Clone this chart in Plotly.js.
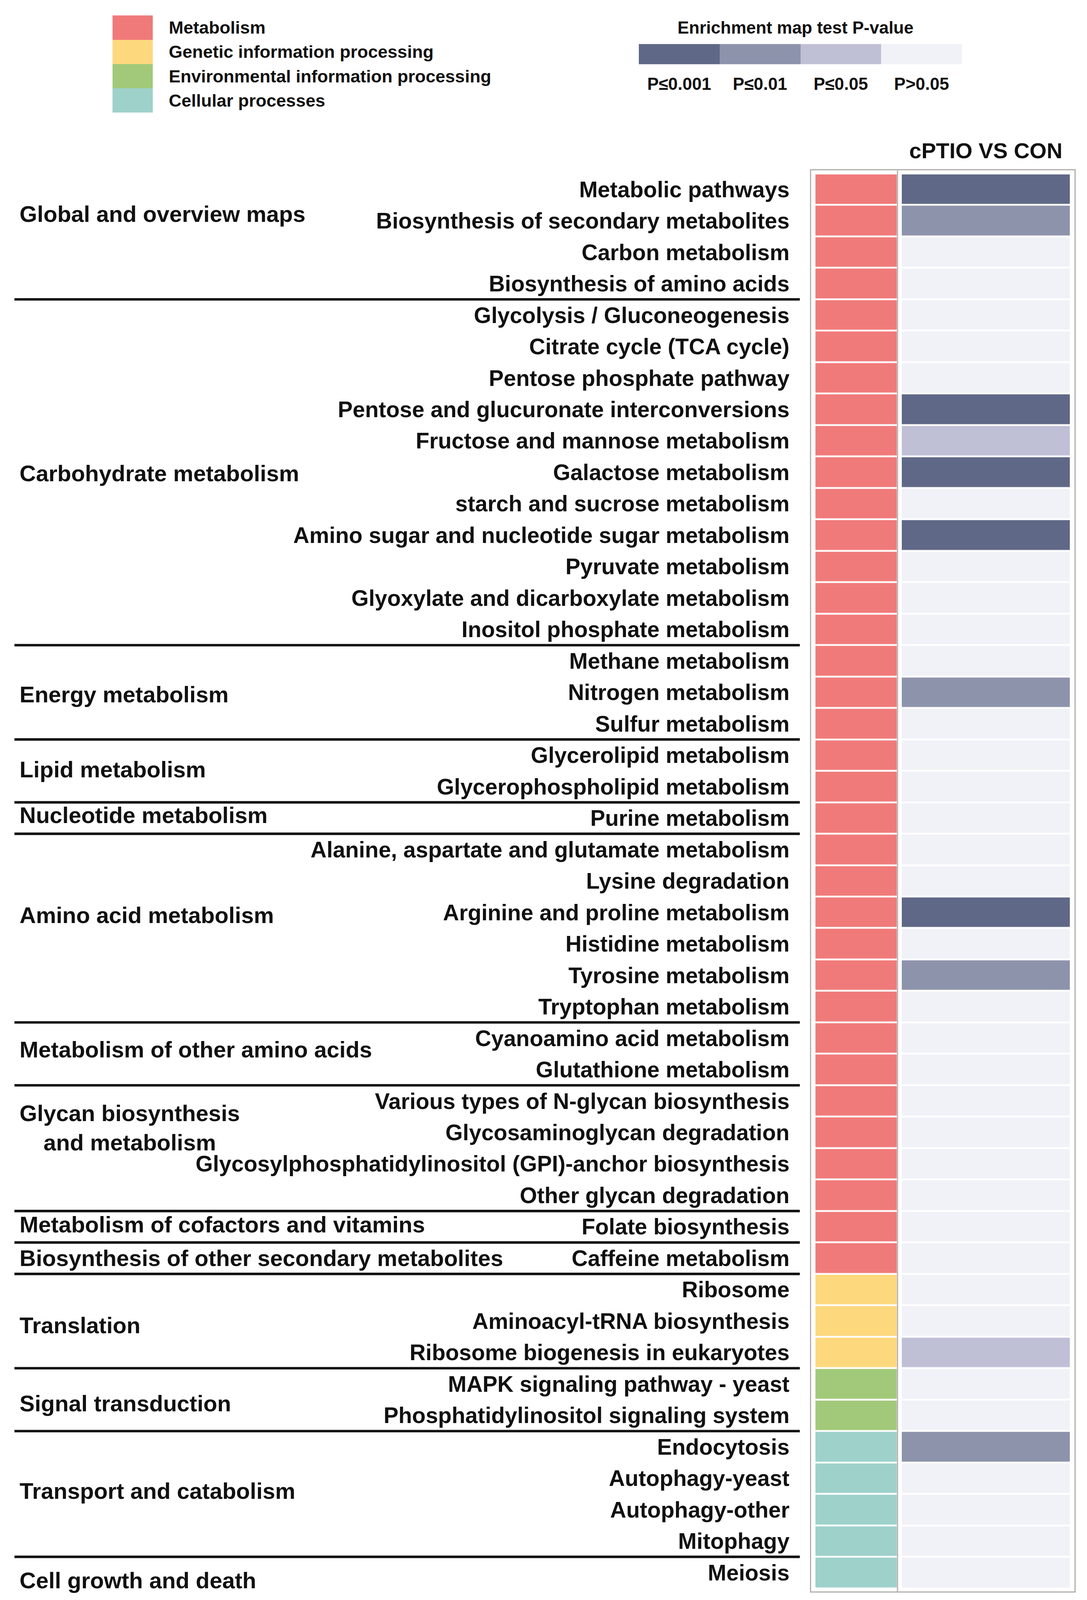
<!DOCTYPE html>
<html>
<head>
<meta charset="utf-8">
<script src="https://cdn.plot.ly/plotly-3.0.1.min.js"></script>
<style>html,body{margin:0;padding:0;background:#fff;overflow:hidden;}#chart{width:100vw;height:100vh;}</style>
</head>
<body>
<div id="chart"></div>
<script>
// ---------------- DATA ----------------
const pathways = [
  "Metabolic pathways",
  "Biosynthesis of secondary metabolites",
  "Carbon metabolism",
  "Biosynthesis of amino acids",
  "Glycolysis / Gluconeogenesis",
  "Citrate cycle (TCA cycle)",
  "Pentose phosphate pathway",
  "Pentose and glucuronate interconversions",
  "Fructose and mannose metabolism",
  "Galactose metabolism",
  "starch and sucrose metabolism",
  "Amino sugar and nucleotide sugar metabolism",
  "Pyruvate metabolism",
  "Glyoxylate and dicarboxylate metabolism",
  "Inositol phosphate metabolism",
  "Methane metabolism",
  "Nitrogen metabolism",
  "Sulfur metabolism",
  "Glycerolipid metabolism",
  "Glycerophospholipid metabolism",
  "Purine metabolism",
  "Alanine, aspartate and glutamate metabolism",
  "Lysine degradation",
  "Arginine and proline metabolism",
  "Histidine metabolism",
  "Tyrosine metabolism",
  "Tryptophan metabolism",
  "Cyanoamino acid metabolism",
  "Glutathione metabolism",
  "Various types of N-glycan biosynthesis",
  "Glycosaminoglycan degradation",
  "Glycosylphosphatidylinositol (GPI)-anchor biosynthesis",
  "Other glycan degradation",
  "Folate biosynthesis",
  "Caffeine metabolism",
  "Ribosome",
  "Aminoacyl-tRNA biosynthesis",
  "Ribosome biogenesis in eukaryotes",
  "MAPK signaling pathway - yeast",
  "Phosphatidylinositol signaling system",
  "Endocytosis",
  "Autophagy-yeast",
  "Autophagy-other",
  "Mitophagy",
  "Meiosis"
];

// KEGG level-1 class of each pathway (index into classNames)
const pathwayClass = [
  0,0,0,0, 0,0,0,0,0,0,0,0,0,0,0, 0,0,0, 0,0, 0, 0,0,0,0,0,0, 0,0, 0,0,0,0, 0, 0,
  1,1,1,
  2,2,
  3,3,3,3,3
];
const classNames = ["Metabolism", "Genetic information processing", "Environmental information processing", "Cellular processes"];

// Enrichment P-value level, cPTIO VS CON (index into pLabels)
const pLevel = [
  0,1,3,3,
  3,3,3,0,2,0,3,0,3,3,3,
  3,1,3,
  3,3,
  3,
  3,3,0,3,1,3,
  3,3,
  3,3,3,3,
  3,
  3,
  3,3,2,
  3,3,
  1,3,3,3,3
];
const pLabels = ["P≤0.001", "P≤0.01", "P≤0.05", "P>0.05"];
const comparison = "cPTIO VS CON";
const legendTitle = "Enrichment map test P-value";

// Level-2 groups (names and number of pathways in each, top to bottom)
const groupNames = [
  "Global and overview maps",
  "Carbohydrate metabolism",
  "Energy metabolism",
  "Lipid metabolism",
  "Nucleotide metabolism",
  "Amino acid metabolism",
  "Metabolism of other amino acids",
  "Glycan biosynthesis<br>and metabolism",
  "Metabolism of cofactors and vitamins",
  "Biosynthesis of other secondary metabolites",
  "Translation",
  "Signal transduction",
  "Transport and catabolism",
  "Cell growth and death"
];
const groupSizes = [4, 11, 3, 2, 1, 6, 2, 4, 1, 1, 3, 2, 4, 1];

// ---------------- STYLE / LAYOUT ----------------
// reference frame is 2782 x 4477; everything scales to the actual viewport
const W = 2782, H = 4477;
const VW = window.innerWidth || W, VH = window.innerHeight || H;
const kx = VW / W, ky = VH / H;
const fs = v => v * kx;                 // font sizes follow the width
const hx = v => Math.max(1, Math.round(v * kx));
const vy = v => v * ky;

const classColors = ["#F07A7A", "#FDD87D", "#A2C979", "#9DD1CA"];
const pColors = ["#5F6886", "#8E93AC", "#BFBFD6", "#F1F1F8"];
const FONT = "Liberation Sans, Arial, Helvetica, sans-serif";
const TXT = "#111111";
const BOXC = "#b3aeab";
// group-label vertical placement (row units)
const groupLabelRow = [0.78, 9.03, 16.06, 18.45, 19.9, 23.08, 27.36, 29.85, 32.92, 33.99, 36.13, 38.62, 41.4, 44.25];

function stepScale(colors) {
  const n = colors.length, s = [];
  colors.forEach((c, i) => { s.push([i / n, c]); s.push([(i + 1) / n, c]); });
  return s;
}

const rows = pathways.map((_, i) => i);

// Main heatmap box (x units = reference pixels inside the box)
const boxL = 2076, boxR = 2750, boxT = 477, boxB = 4453;
const redEdges = [11, 219];
const pEdges = [232, 662];
const colDivider = 221;

const traces = [
  {
    type: "heatmap", xaxis: "x", yaxis: "y",
    x: redEdges, y: rows,
    z: pathwayClass.map(v => [v]),
    zmin: -0.5, zmax: 3.5, colorscale: stepScale(classColors),
    showscale: false, ygap: vy(5), hoverinfo: "skip"
  },
  {
    type: "heatmap", xaxis: "x", yaxis: "y",
    x: pEdges, y: rows,
    z: pLevel.map(v => [v]),
    zmin: -0.5, zmax: 3.5, colorscale: stepScale(pColors),
    showscale: false, ygap: vy(5), hoverinfo: "skip"
  },
  // P-value legend bar
  {
    type: "heatmap", xaxis: "x2", yaxis: "y2",
    x: pLabels.map((_, i) => i), y: [0],
    z: [pLabels.map((_, i) => i)],
    zmin: -0.5, zmax: 3.5, colorscale: stepScale(pColors),
    showscale: false, hoverinfo: "skip"
  },
  // class legend swatches
  {
    type: "heatmap", xaxis: "x3", yaxis: "y3",
    x: [0], y: classNames.map((_, i) => i),
    z: classNames.map((_, i) => [i]),
    zmin: -0.5, zmax: 3.5, colorscale: stepScale(classColors),
    showscale: false, hoverinfo: "skip"
  }
];

const shapes = [];
// group dividers
let cum = 0;
groupSizes.slice(0, -1).forEach(n => {
  cum += n;
  shapes.push({
    type: "line", xref: "paper", yref: "y",
    x0: 37 / W, x1: 2047 / W, y0: cum - 0.5, y1: cum - 0.5,
    line: { color: TXT, width: vy(7) }
  });
});
// column divider inside the box
shapes.push({
  type: "line", xref: "x", yref: "paper",
  x0: colDivider, x1: colDivider, y0: 1 - boxB / H, y1: 1 - boxT / H,
  line: { color: BOXC, width: 3 * kx }
});

const annotations = [];
groupNames.forEach((g, i) => {
  annotations.push({
    text: g, xref: "paper", yref: "y", x: 48 / W, y: groupLabelRow[i],
    xanchor: "left", yanchor: "middle", align: "center", showarrow: false,
    font: { family: FONT, size: fs(58), color: TXT, weight: "bold" }
  });
});
annotations.push({
  text: comparison, xref: "x", yref: "paper", x: (pEdges[0] + pEdges[1]) / 2, y: 1 - 421 / H,
  xanchor: "center", yanchor: "middle", showarrow: false,
  font: { family: FONT, size: fs(56), color: TXT, weight: "bold" }
});
annotations.push({
  text: legendTitle, xref: "paper", yref: "paper", x: 2036 / W, y: 1 - 77 / H,
  xanchor: "center", yanchor: "middle", showarrow: false,
  font: { family: FONT, size: fs(44), color: TXT, weight: "bold" }
});

const layout = {
  width: VW, height: VH,
  margin: { l: 0, r: 0, t: 0, b: 0 },
  paper_bgcolor: "#ffffff", plot_bgcolor: "#ffffff",
  showlegend: false,
  font: { family: FONT, color: TXT },
  xaxis: {
    domain: [boxL / W, boxR / W], range: [0, boxR - boxL], fixedrange: true,
    showgrid: false, zeroline: false, showticklabels: false, ticks: "",
    showline: true, mirror: true, linecolor: BOXC, linewidth: 3 * kx
  },
  yaxis: {
    domain: [1 - boxB / H, 1 - boxT / H], range: [44.6, -0.6], fixedrange: true,
    showgrid: false, zeroline: false, ticks: "",
    tickmode: "array", tickvals: rows, ticktext: pathways,
    tickfont: { family: FONT, size: fs(57), color: TXT, weight: "bold" },
    ticklabelstandoff: hx(41),
    showline: true, mirror: true, linecolor: BOXC, linewidth: 3 * kx
  },
  xaxis2: {
    anchor: "y2", domain: [1635 / W, 2462 / W], range: [-0.5, 3.5], fixedrange: true,
    showgrid: false, zeroline: false, ticks: "", showline: false,
    tickmode: "array", tickvals: pLabels.map((_, i) => i), ticktext: pLabels,
    tickfont: { family: FONT, size: fs(44), color: TXT, weight: "bold" },
    ticklabelstandoff: Math.max(1, Math.round(vy(22)))
  },
  yaxis2: {
    anchor: "x2", domain: [1 - 180 / H, 1 - 123 / H], range: [-0.5, 0.5], fixedrange: true,
    showgrid: false, zeroline: false, showticklabels: false, ticks: "", showline: false
  },
  xaxis3: {
    anchor: "y3", domain: [288 / W, 391 / W], range: [-0.5, 0.5], fixedrange: true,
    showgrid: false, zeroline: false, showticklabels: false, ticks: "", showline: false
  },
  yaxis3: {
    anchor: "x3", side: "right", domain: [1 - 315 / H, 1 - 43 / H], range: [3.5, -0.5], fixedrange: true,
    showgrid: false, zeroline: false, ticks: "", showline: false,
    tickmode: "array", tickvals: classNames.map((_, i) => i), ticktext: classNames,
    tickfont: { family: FONT, size: fs(45), color: TXT, weight: "bold" },
    ticklabelstandoff: hx(40)
  },
  shapes: shapes,
  annotations: annotations
};

Plotly.newPlot("chart", traces, layout, { staticPlot: true, displayModeBar: false });
</script>
</body>
</html>
